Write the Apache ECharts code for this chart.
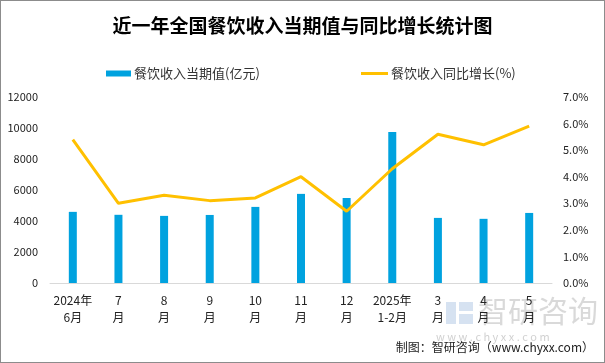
<!DOCTYPE html>
<html>
<head>
<meta charset="utf-8">
<script src="https://cdn.jsdelivr.net/npm/echarts@6/dist/echarts.min.js"></script>
<style>
html,body{margin:0;padding:0;background:#fff;}
#wrap{width:605px;height:363px;box-sizing:border-box;border:1px solid #8c8c8c;position:relative;overflow:hidden;}
#chart{position:absolute;left:-1px;top:-1px;width:605px;height:363px;}
</style>
</head>
<body>
<div id="wrap"><div id="chart"></div></div>
<script>
const categories = ['2024年\n6月','7\n月','8\n月','9\n月','10\n月','11\n月','12\n月','2025年\n1-2月','3\n月','4\n月','5\n月'];
const revenueValues = [4590, 4400, 4330, 4390, 4910, 5750, 5490, 9740, 4200, 4140, 4520];
const growthValues = [5.4, 3.0, 3.3, 3.1, 3.2, 4.0, 2.7, 4.3, 5.6, 5.2, 5.9];
const leftTicks = {min: 0, max: 12000, interval: 2000};
const rightTicks = {min: 0, max: 7, interval: 1};
const barName = '餐饮收入当期值(亿元)';
const lineName = '餐饮收入同比增长(%)';

const FONT = '"Noto Sans CJK SC", "Noto Sans", sans-serif';
const chart = echarts.init(document.getElementById('chart'), null, {renderer: 'canvas'});
chart.setOption({
  animation: false,
  textStyle: {fontFamily: FONT},
  title: {
    text: '近一年全国餐饮收入当期值与同比增长统计图',
    left: 'center', top: 11,
    textStyle: {fontSize: 19, fontWeight: 'bold', color: '#000', fontFamily: FONT}
  },
  legend: [
    {data: [barName], left: 101, top: 62, itemWidth: 25, itemHeight: 6, icon: 'rect', itemGap: 0,
     textStyle: {fontSize: 13, color: '#333', fontFamily: FONT, padding: [0,0,0,-2]}},
    {data: [lineName], left: 356, top: 62, itemWidth: 27, itemHeight: 3, icon: 'rect', itemGap: 0,
     textStyle: {fontSize: 13, color: '#333', fontFamily: FONT, padding: [0,0,0,-2]}}
  ],
  grid: {left: 50, right: 53, top: 97, bottom: 80},
  xAxis: {
    type: 'category', data: categories,
    axisLine: {lineStyle: {color: '#d9d9d9', width: 1}},
    axisTick: {show: false},
    axisLabel: {fontSize: 12, color: '#222', lineHeight: 17, margin: 9, interval: 0, fontFamily: FONT}
  },
  yAxis: [
    {type: 'value', min: leftTicks.min, max: leftTicks.max, interval: leftTicks.interval,
     splitLine: {show: false}, axisLine: {show: false}, axisTick: {show: false},
     axisLabel: {fontSize: 11, color: '#222', margin: 12, fontFamily: FONT, formatter: v => String(v)}},
    {type: 'value', min: rightTicks.min, max: rightTicks.max, interval: rightTicks.interval,
     splitLine: {show: false}, axisLine: {show: false}, axisTick: {show: false},
     axisLabel: {fontSize: 11, color: '#222', margin: 11, fontFamily: FONT,
       formatter: v => v.toFixed(1) + '%'}}
  ],
  graphic: [
    {type: 'text', left: 478, top: 296, z: 0, silent: true,
     style: {text: '智研咨询', fontSize: 30, fill: 'rgba(120,120,120,0.28)', fontFamily: FONT}},
    {type: 'rect', left: 446, top: 302, z: 0, silent: true,
     shape: {width: 10, height: 22}, style: {fill: 'rgba(120,160,210,0.3)'}},
    {type: 'rect', left: 459, top: 302, z: 0, silent: true,
     shape: {width: 14, height: 9}, style: {fill: 'rgba(120,160,210,0.3)'}},
    {type: 'rect', left: 459, top: 314, z: 0, silent: true,
     shape: {width: 14, height: 10}, style: {fill: 'rgba(120,160,210,0.3)'}},
    {type: 'text', left: 436, top: 331, z: 0, silent: true,
     style: {text: 'w w w . c h y x x . c o m', fontSize: 11, fill: 'rgba(120,120,120,0.35)', fontFamily: FONT}},
    {type: 'text', right: 11, top: 341, z: 10, silent: true,
     style: {text: '制图：智研咨询（www.chyxx.com）', fontSize: 12, fill: '#222', fontFamily: FONT}}
  ],
  series: [
    {name: barName, type: 'bar', data: revenueValues, barWidth: 8, yAxisIndex: 0,
     itemStyle: {color: '#00A2DF'}, z: 2},
    {name: lineName, type: 'line', data: growthValues, yAxisIndex: 1, showSymbol: false, symbol: 'none',
     lineStyle: {color: '#FFC000', width: 3}, itemStyle: {color: '#FFC000'}, z: 3}
  ]
});
</script>
</body>
</html>
